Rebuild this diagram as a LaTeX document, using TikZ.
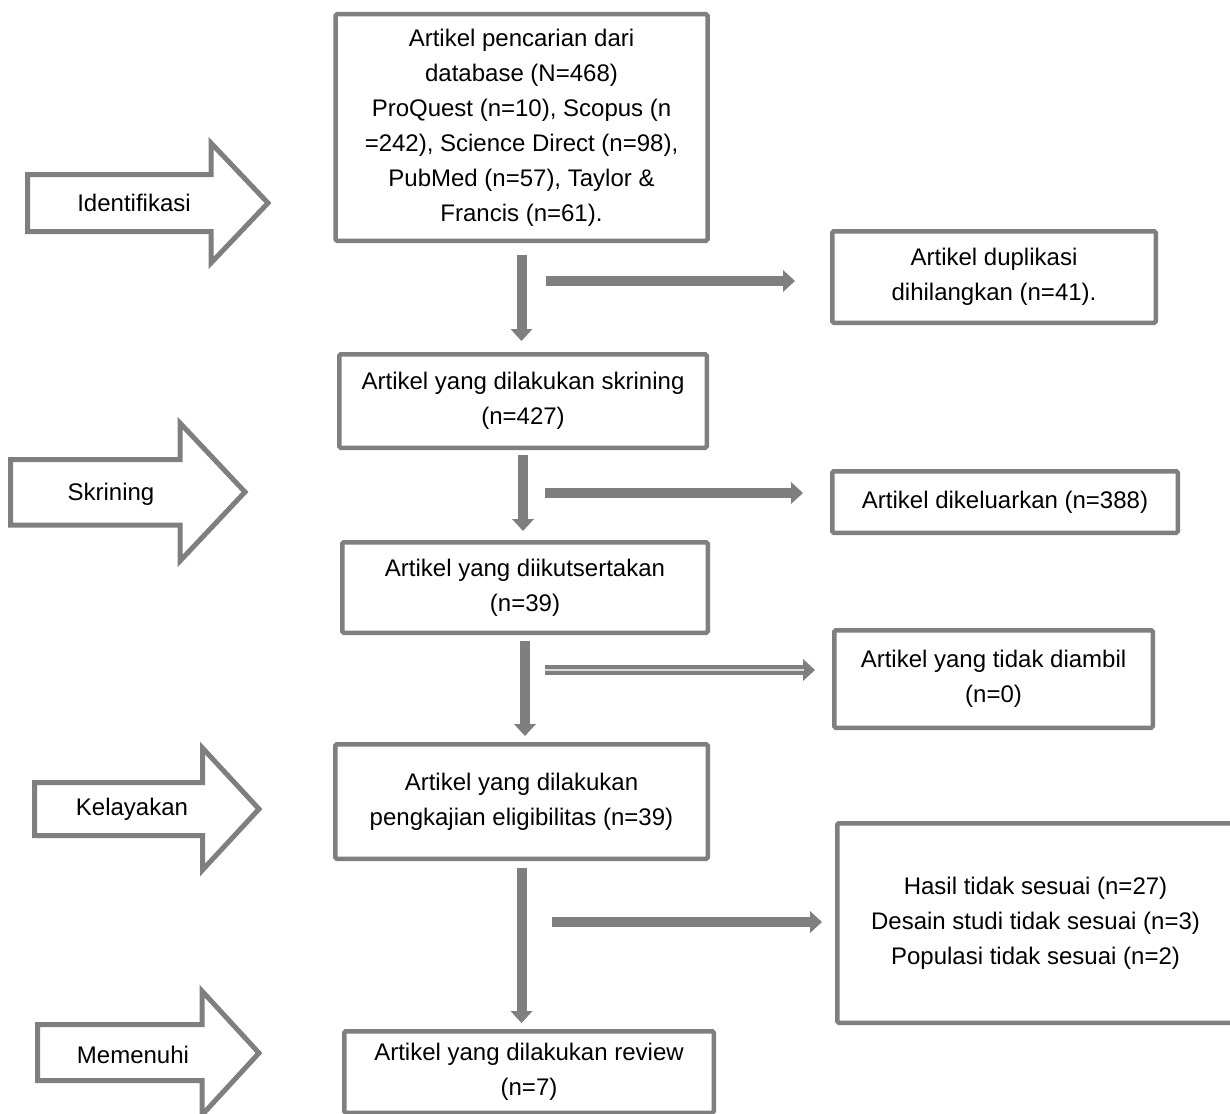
\documentclass[tikz,border=0pt]{standalone}
\usepackage{fontspec}
\setmainfont{Liberation Sans}
\usetikzlibrary{arrows.meta}
\definecolor{boxgray}{HTML}{7F7F7F}

\begin{document}
\begin{tikzpicture}[x=1pt,y=-1pt,
    every node/.style={font=\fontsize{24}{35}\selectfont},
    box/.style={draw=boxgray,line width=4.5pt,rounded corners=1.5pt,fill=white,
                align=center,inner sep=0pt},
    tag/.style={draw=boxgray,line width=5pt,fill=white,line join=miter},
    flow/.style={draw=boxgray,line width=10pt,
                 -{Triangle[width=22pt,length=12pt,line width'=0pt]}}]
  \useasboundingbox (0,0) rectangle (1230,1113);

  % stages
  \draw[tag] (27.5,174.5) -- (211,174.5) -- (211,143) -- (268,203) -- (211,263)
             -- (211,231.5) -- (27.5,231.5) -- cycle;
  \draw[tag] (10.5,459.5) -- (180,459.5) -- (180,423) -- (245,492) -- (180,561)
             -- (180,525) -- (10.5,525) -- cycle;
  \draw[tag] (34.5,782.5) -- (202.5,782.5) -- (202.5,748) -- (259,809) -- (202.5,870)
             -- (202.5,835.5) -- (34.5,835.5) -- cycle;
  \draw[tag] (37.5,1024.5) -- (202,1024.5) -- (202,991) -- (259,1053) -- (202,1115)
             -- (202,1080.5) -- (37.5,1080.5) -- cycle;
  \node (ident) at (134,203)  {Identifikasi};
  \node (screen) at (111,494) {Skrining};
  \node (elig) at (132,809)   {Kelayakan};
  \node (incl) at (133,1055)  {Memenuhi};

  % main column
  \node[box,minimum width=372pt,minimum height=226.5pt] (search) at (521.5,127.5)
    {Artikel pencarian dari\\ database (N=468)\\ ProQuest (n=10), Scopus (n\\
     =242), Science Direct (n=98),\\ PubMed (n=57), Taylor \&\\ Francis (n=61).};
  \node[box,minimum width=367.5pt,minimum height=93.5pt] (screened) at (523,401)
    {Artikel yang dilakukan skrining\\ (n=427)};
  \node[box,minimum width=365.5pt,minimum height=90.5pt] (included) at (525,587.5)
    {Artikel yang diikutsertakan\\ (n=39)};
  \node[box,minimum width=372.5pt,minimum height=114.5pt] (eligible) at (521.5,801.5)
    {Artikel yang dilakukan\\ pengkajian eligibilitas (n=39)};
  \node[box,minimum width=369.5pt,minimum height=81.5pt] (reviewed) at (529,1072)
    {Artikel yang dilakukan review\\ (n=7)};

  % side boxes
  \node[box,minimum width=323.5pt,minimum height=91.5pt] (dupl) at (994,277)
    {Artikel duplikasi\\ dihilangkan (n=41).};
  \node[box,minimum width=345.5pt,minimum height=61.5pt] (excl) at (1005,502)
    {Artikel dikeluarkan (n=388)};
  \node[box,minimum width=318.5pt,minimum height=97.5pt] (notret) at (993.5,679)
    {Artikel yang tidak diambil\\ (n=0)};
  \node[box,minimum width=396.5pt,minimum height=199.5pt] (unfit) at (1035.5,923)
    {Hasil tidak sesuai (n=27)\\ Desain studi tidak sesuai (n=3)\\
     Populasi tidak sesuai (n=2)};

  % flow down
  \draw[flow,shorten <=12pt,shorten >=11pt] (search.south) -- (search.south |- screened.north);
  \draw[flow,shorten <=5pt,shorten >=9pt] (screened.south) -- (screened.south |- included.north);
  \draw[flow,shorten <=6pt,shorten >=6pt] (included.south) -- (included.south |- eligible.north);
  \draw[flow,shorten <=7pt,shorten >=6pt] (eligible.south) -- (eligible.south |- reviewed.north);

  % flow out
  \coordinate (out1) at (546,281);
  \coordinate (out2) at (545,493);
  \coordinate (out3) at (545,670);
  \coordinate (out4) at (552,922);
  \draw[flow,shorten >=35pt] (out1) -- (out1 -| dupl.west);
  \draw[flow,shorten >=27pt] (out2) -- (out2 -| excl.west);
  \draw[flow,shorten >=17pt,
        postaction={draw=white!70!boxgray,line width=1.5pt,-,shorten >=28pt}]
    (out3) -- (out3 -| notret.west);
  \draw[flow,shorten >=13pt] (out4) -- (out4 -| unfit.west);
\end{tikzpicture}
\end{document}
